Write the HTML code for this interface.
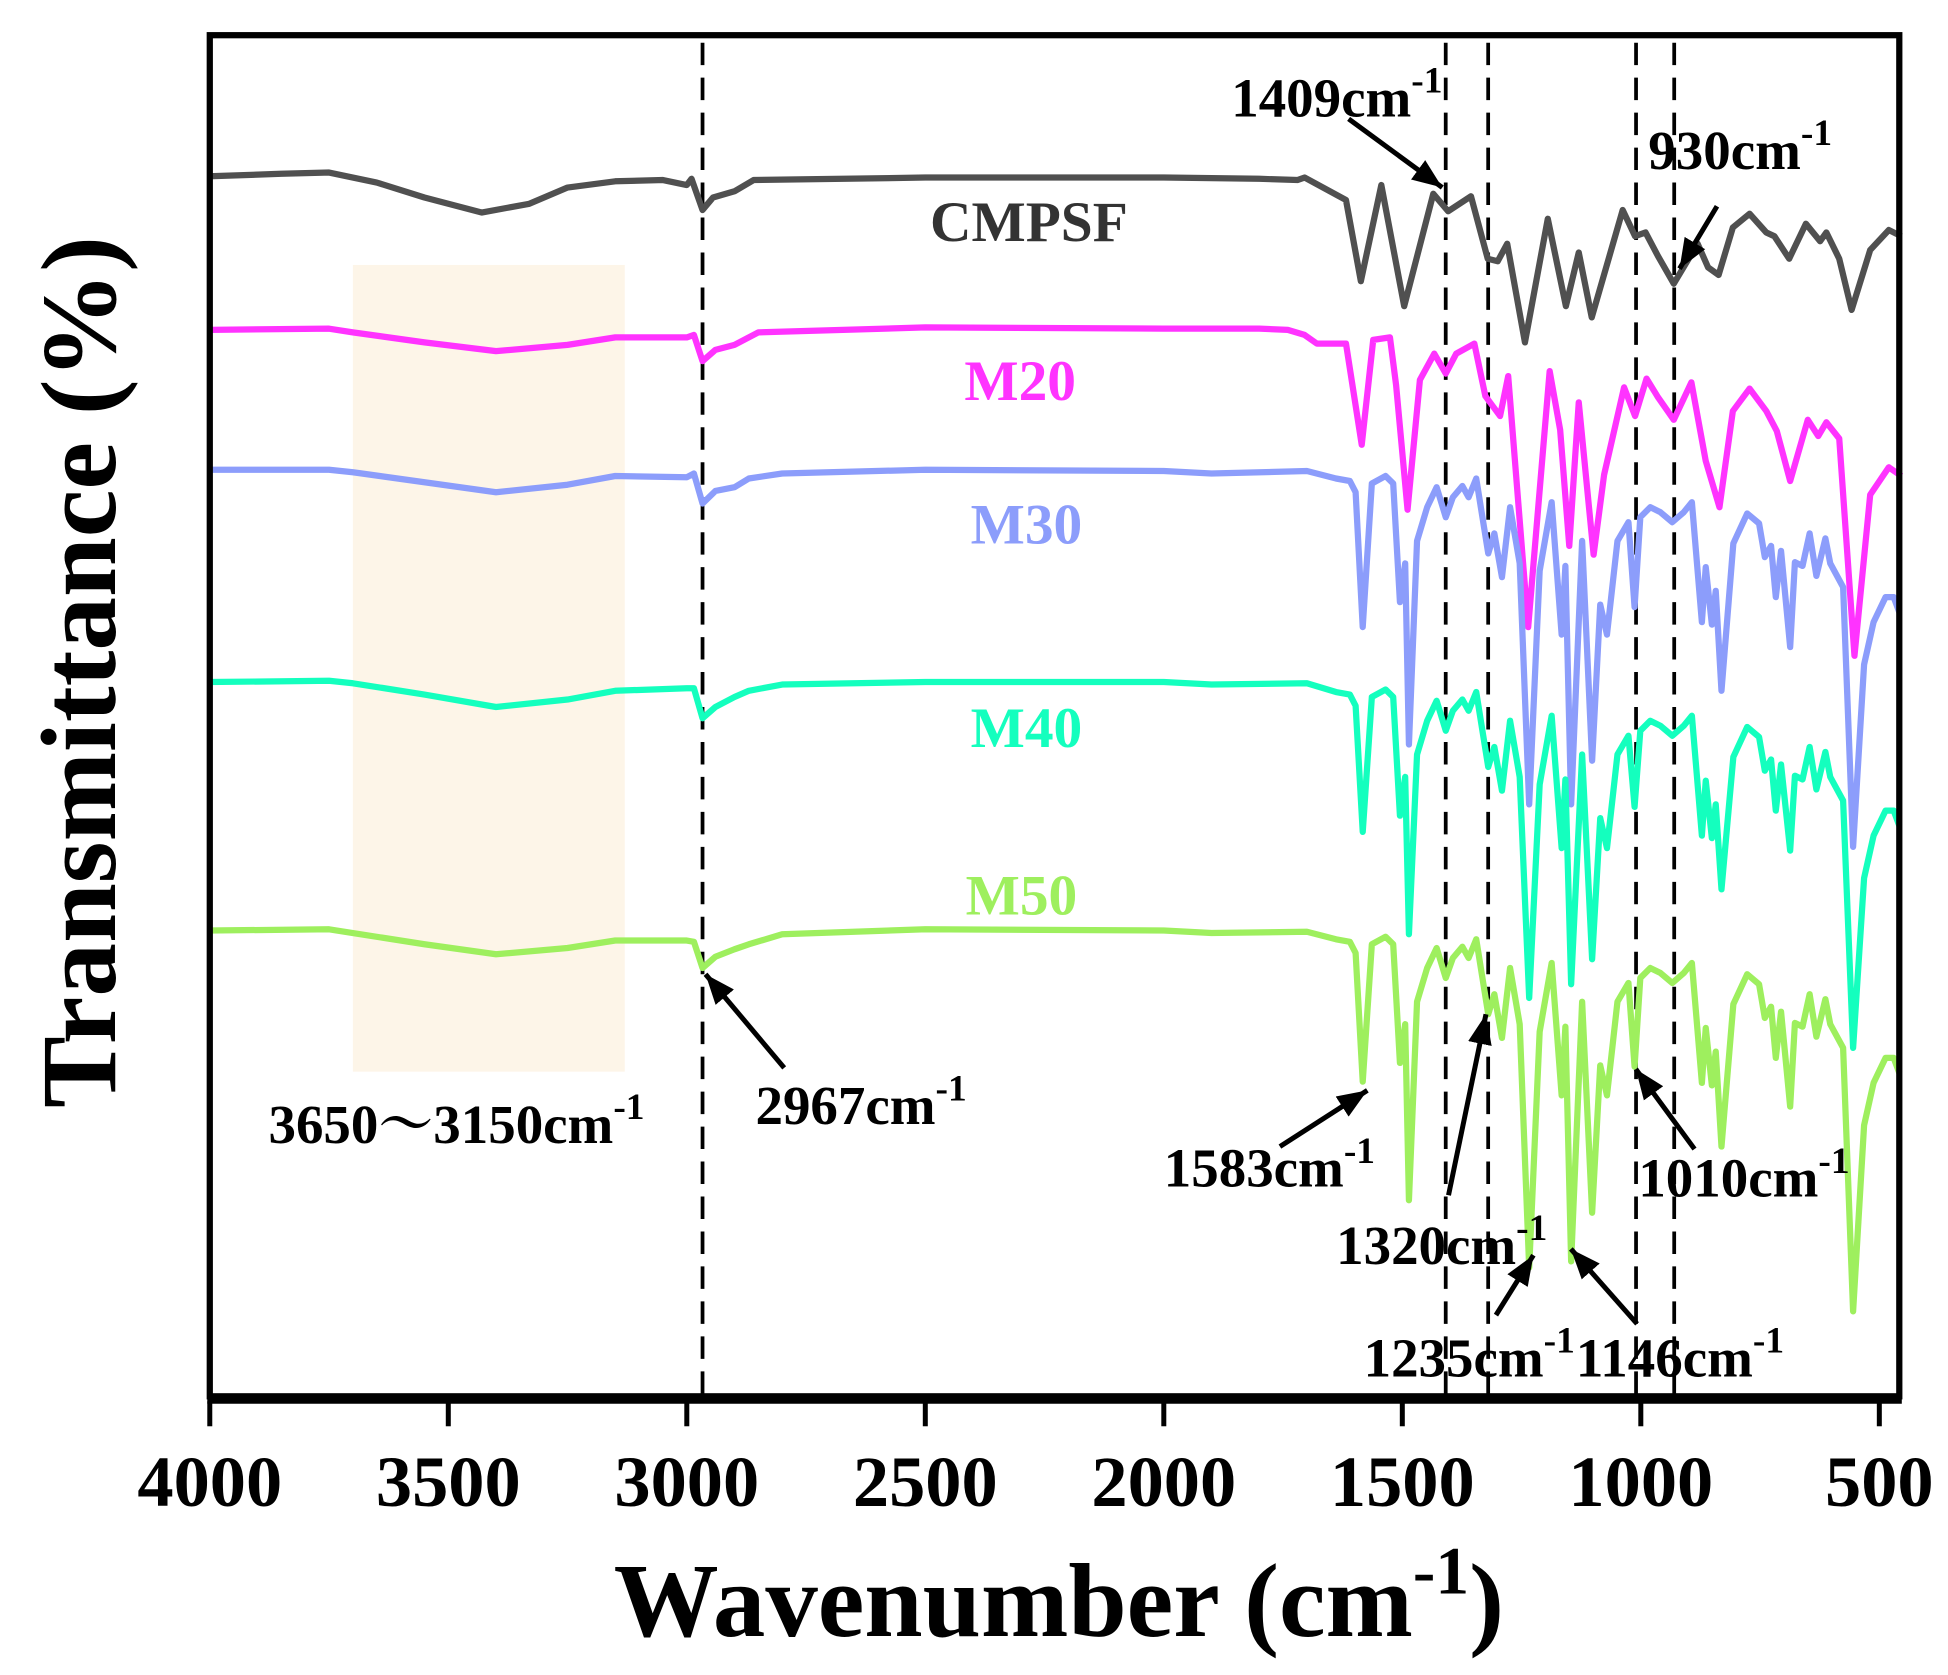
<!DOCTYPE html>
<html><head><meta charset="utf-8"><style>
html,body{margin:0;padding:0;background:#fff;}
svg{display:block;font-family:"Liberation Serif","Noto Serif CJK SC",serif;font-weight:bold;}
</style></head><body>
<svg id="chart" width="1948" height="1675" viewBox="0 0 1560 1341" xmlns="http://www.w3.org/2000/svg">
<rect x="0" y="0" width="1560" height="1341" fill="#fff"/>
<g id="plot"></g>
</svg>
<script>
const xTicks = [4000,3500,3000,2500,2000,1500,1000,500];
const dashLines = [2967,1409,1320,1010,930];
const cmpsfW = [4000,3850,3750,3650,3550,3430,3330,3250,3150,3050,3000,2990,2967,2945,2900,2860,2500,2000,1800,1720,1705,1618,1587,1544,1496,1435,1404,1356,1321,1300,1280,1243,1195,1157,1130,1103,1038,1012,990,964,931,881,859,837,807,772,737,720,689,654,624,611,584,558,519,480,454];
const cmpsfT = [97.7,97.9,98.0,97.2,96.0,94.8,95.5,96.8,97.3,97.4,97.0,97.5,95.0,96.0,96.5,97.4,97.6,97.6,97.5,97.4,97.6,95.8,89.3,97.0,87.3,96.3,94.9,96.1,91.1,90.9,92.3,84.4,94.3,87.3,91.6,86.4,95.0,92.9,93.2,91.3,89.1,92.3,90.4,89.8,93.6,94.7,93.2,92.9,91.1,93.9,92.5,93.2,91.1,87.0,91.8,93.4,92.9];
const m20W = [4000,3750,3700,3550,3400,3250,3150,3000,2985,2967,2940,2900,2850,2500,2000,1800,1740,1705,1679,1618,1585,1561,1526,1513,1489,1463,1433,1409,1387,1349,1326,1295,1278,1236,1191,1169,1150,1130,1099,1077,1035,1012,988,964,931,894,864,835,807,772,737,715,687,650,628,611,584,552,519,480,454];
const m20T = [85.4,85.5,85.2,84.4,83.7,84.2,84.8,84.8,85.0,82.9,83.8,84.2,85.2,85.6,85.5,85.5,85.4,85.0,84.3,84.3,76.2,84.6,84.8,81.0,71.0,81.4,83.5,81.9,83.5,84.3,80.1,78.5,81.7,61.6,82.1,77.4,68.1,79.6,67.4,73.8,80.8,78.5,81.5,80.0,78.2,81.2,74.9,71.2,78.9,80.7,78.9,77.3,73.3,78.2,76.9,78.0,76.7,59.3,72.2,74.4,73.7];
const mW = [4000,3750,3700,3550,3400,3250,3150,3000,2985,2967,2940,2900,2870,2800,2500,2000,1900,1700,1639,1610,1598,1583,1564,1535,1519,1505,1494,1486,1469,1448,1428,1409,1394,1374,1361,1345,1320,1307,1291,1274,1254,1234,1212,1187,1166,1158,1146,1123,1102,1085,1071,1049,1026,1013,1001,980,959,934,910,893,872,864,851,843,831,806,777,752,740,727,717,706,687,677,661,646,632,613,603,576,555,532,512,487,470,458];
const m30T = [74.2,74.2,74.0,73.2,72.4,73.0,73.7,73.6,73.9,71.5,72.5,72.8,73.5,73.9,74.2,74.1,73.9,74.1,73.5,73.3,72.4,61.6,73.1,73.7,73.1,63.6,66.7,52.2,68.5,71.2,72.8,70.4,72.0,72.9,72.0,73.5,67.5,69.1,65.6,71.2,66.7,47.4,66.1,71.6,61.0,66.5,47.4,68.5,50.9,63.4,61.0,68.5,70.0,63.2,70.4,71.2,70.8,70.0,70.8,71.6,62.0,66.4,61.8,64.5,56.5,68.3,70.7,69.9,67.2,68.1,64.0,67.7,60.0,66.8,66.5,69.1,65.7,68.7,66.7,64.8,44.0,58.6,62.0,64.0,64.0,62.8];
const m40T = [57.2,57.3,57.1,56.2,55.2,55.8,56.5,56.7,56.7,54.3,55.2,56.0,56.5,57.0,57.2,57.2,57.0,57.1,56.4,56.2,55.3,45.2,56.0,56.6,56.0,46.5,49.6,37.0,51.4,54.1,55.7,53.3,54.9,55.8,54.9,56.4,50.4,52.0,48.5,54.1,49.6,31.9,49.0,54.5,43.9,49.4,33.0,51.4,35.0,46.3,43.9,51.4,52.9,47.2,53.3,54.1,53.7,52.9,53.7,54.5,44.9,49.3,44.7,47.4,40.6,51.2,53.6,52.8,50.1,51.0,46.9,50.6,43.7,49.7,49.4,52.0,48.6,51.6,49.6,47.7,27.9,41.5,44.9,46.9,46.9,45.7];
const m50T = [37.3,37.4,37.1,36.2,35.4,35.9,36.5,36.5,36.4,34.3,35.2,35.8,36.2,37.0,37.4,37.3,37.1,37.2,36.6,36.4,35.5,25.2,36.2,36.8,36.2,26.7,29.8,15.7,31.6,34.3,35.9,33.5,35.1,36.0,35.1,36.6,30.6,32.2,28.7,34.3,29.8,10.3,29.2,34.7,24.1,29.6,10.8,31.6,14.7,26.5,24.1,31.6,33.1,26.4,33.5,34.3,33.9,33.1,33.9,34.7,25.1,29.5,24.9,27.6,20.0,31.4,33.8,33.0,30.3,31.2,27.1,30.8,23.2,29.9,29.6,32.2,28.8,31.8,29.8,27.9,6.8,21.7,25.1,27.1,27.1,25.9];

const NS = 'http://www.w3.org/2000/svg';
const L = 168, R = 1521, T = 28, B = 1118;
const wMax = 4000;
const pxPerW = (1505 - 168) / 3500;
function xs(w){ return L + (wMax - w) * pxPerW; }
const yMax = 109;
function ys(t){ return B - t * (B - T) / yMax; }
const g = document.getElementById('plot');
function mk(tag, attrs, parent){
  const e = document.createElementNS(NS, tag);
  for (const k in attrs) e.setAttribute(k, attrs[k]);
  (parent || g).appendChild(e);
  return e;
}

const band = mk('rect', {x: xs(3700), y: 212, width: xs(3130) - xs(3700), height: 646, fill: '#fdf5e8'});



dashLines.forEach(w => {
  const l = mk('line', {x1: xs(w), x2: xs(w), y1: T + 6, y2: B, stroke: '#000', 'stroke-width': 3, 'stroke-dasharray': '18,10'});
  
  
});

function series(W, V, color, name){
  let d = '';
  for (let i = 0; i < W.length; i++) d += (i ? 'L' : 'M') + xs(W[i]).toFixed(1) + ',' + ys(V[i]).toFixed(1);
  const p = mk('path', {d: d, fill: 'none', stroke: color, 'stroke-width': 5, 'stroke-linejoin': 'round'});
  
  
}
series(cmpsfW, cmpsfT, '#505050', 'cmpsf-line');
series(m20W, m20T, '#ff33ff', 'm20-line');
series(mW, m30T, '#8c9dfb', 'm30-line');
series(mW, m40T, '#14ffbe', 'm40-line');
series(mW, m50T, '#9eef5e', 'm50-line');

const fr = mk('rect', {x: L, y: T, width: R - L, height: B - T, fill: 'none', stroke: '#000', 'stroke-width': 5});


const xa = mk('line', {x1: L - 2, x2: R + 2, y1: B + 2, y2: B + 2, stroke: '#000', 'stroke-width': 8});



xTicks.forEach(w => {
  const t = mk('line', {x1: xs(w), x2: xs(w), y1: B + 4, y2: B + 24, stroke: '#000', 'stroke-width': 4});
  
  
  const tx = mk('text', {x: xs(w), y: 1206, 'text-anchor': 'middle', 'font-size': 58});
  tx.textContent = w;
  
  
});

const labs = [['CMPSF', 824, 193, '#333333'], ['M20', 817, 320, '#ff33ff'], ['M30', 822, 435, '#8c9dfb'], ['M40', 822, 598, '#14ffbe'], ['M50', 818, 732, '#9eef5e']];
labs.forEach(a => {
  const t = mk('text', {x: a[1], y: a[2], 'text-anchor': 'middle', 'font-size': 46, fill: a[3]});
  t.textContent = a[0];
  
  
});

function ann(txt, x, y, name){
  const t = mk('text', {x: x, y: y, 'font-size': 44});
  t.appendChild(document.createTextNode(txt + 'cm'));
  const s = mk('tspan', {dy: -19, 'font-size': 30}, t);
  s.textContent = '-1';
  
  
}
ann('1409', 986, 93, 'annotation-1409');
ann('930', 1320, 135, 'annotation-930');
ann('3650～3150', 215, 915, 'annotation-oh-range');
ann('2967', 605, 900, 'annotation-2967');
ann('1583', 932, 950, 'annotation-1583');
ann('1320', 1070, 1012, 'annotation-1320');
ann('1235', 1092, 1102, 'annotation-1235');
ann('1146', 1262, 1102, 'annotation-1146');
ann('1010', 1312, 958, 'annotation-1010');

const defs = mk('defs', {});
const mkr = mk('marker', {id: 'ah', viewBox: '0 0 10 10', refX: 10, refY: 5, markerWidth: 6, markerHeight: 6, orient: 'auto-start-reverse', markerUnits: 'strokeWidth'}, defs);
mk('path', {d: 'M0,1 L10,5 L0,9 z', fill: '#000'}, mkr);
function arrow(x1, y1, x2, y2, name){
  const a = mk('line', {x1: x1, y1: y1, x2: x2, y2: y2, stroke: '#000', 'stroke-width': 4, 'marker-end': 'url(#ah)'});
  
  
}
arrow(1080, 95, 1155, 150, 'arrow-1409');
arrow(1375, 165, 1345, 215, 'arrow-930');
arrow(628, 855, 565, 780, 'arrow-2967');
arrow(1025, 918, 1095, 873, 'arrow-1583');
arrow(1160, 957, 1190, 812, 'arrow-1320');
arrow(1198, 1053, 1228, 1005, 'arrow-1235');
arrow(1311, 1060, 1258, 1000, 'arrow-1146');
arrow(1357, 920, 1310, 856, 'arrow-1010');

const xt = mk('text', {x: 848, y: 1310, 'text-anchor': 'middle', 'font-size': 84});
xt.appendChild(document.createTextNode('Wavenumber (cm'));
const xs1 = mk('tspan', {dy: -34, 'font-size': 54}, xt); xs1.textContent = '-1';
const xs2 = mk('tspan', {dy: 34}, xt); xs2.textContent = ')';


const yt = mk('text', {x: 0, y: 0, 'text-anchor': 'middle', 'font-size': 86, transform: 'translate(92,538) rotate(-90)'});
yt.textContent = 'Transmittance (%)';


</script>
</body></html>
